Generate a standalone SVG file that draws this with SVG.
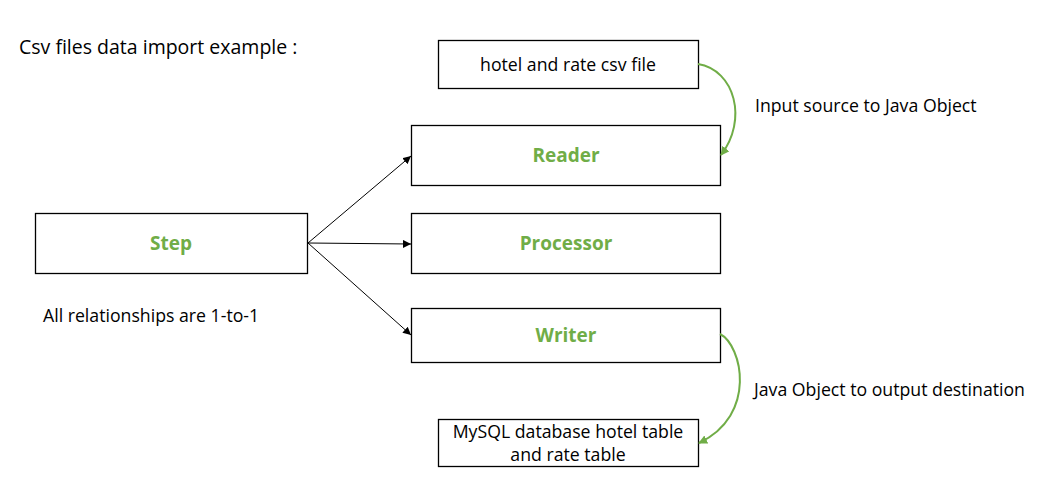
<svg xmlns="http://www.w3.org/2000/svg" width="1050" height="486" viewBox="0 0 1050 486">
<style>
.box{fill:#fff;stroke:#000;stroke-width:1.3}
.t{font-family:"Open Sans","Liberation Sans",sans-serif;font-size:17.7px;fill:#000}
.g{font-family:"Open Sans","Liberation Sans",sans-serif;font-size:19px;font-weight:bold;fill:#70AD47}
.c{fill:none;stroke:#000;stroke-width:1}
.gc{fill:none;stroke:#70AD47;stroke-width:2}
</style>
<defs>
<marker id="ab" viewBox="0 0 10 10" refX="10" refY="5" markerWidth="8" markerHeight="8" markerUnits="userSpaceOnUse" orient="auto"><path d="M0,0 L10,5 L0,10 z" fill="#000"/></marker>
<marker id="ag" viewBox="0 0 10 10" refX="9" refY="5" markerWidth="9" markerHeight="9" markerUnits="userSpaceOnUse" orient="auto"><path d="M0,0 L10,5 L0,10 z" fill="#70AD47"/></marker>
</defs>
<rect width="1050" height="486" fill="#fff"/>
<text class="t" x="19" y="54" style="font-size:19.5px">Csv files data import example :</text>
<g id="csv"><rect class="box" x="438.5" y="40.5" width="260" height="48"/><text class="t" x="568" y="71" text-anchor="middle">hotel and rate csv file</text></g>
<g id="reader"><rect class="box" x="411.5" y="125.5" width="309" height="60"/><text class="g" x="566" y="162" text-anchor="middle">Reader</text></g>
<g id="processor"><rect class="box" x="411.5" y="213.5" width="309" height="60"/><text class="g" x="566" y="250" text-anchor="middle">Processor</text></g>
<g id="writer"><rect class="box" x="411.5" y="308.5" width="309" height="54"/><text class="g" x="566" y="342" text-anchor="middle">Writer</text></g>
<g id="step"><rect class="box" x="35.5" y="213.5" width="272" height="60"/><text class="g" x="171" y="250" text-anchor="middle">Step</text></g>
<g id="mysql"><rect class="box" x="438.5" y="419.5" width="260" height="47"/><text class="t" x="568" y="438" text-anchor="middle">MySQL database hotel table</text><text class="t" x="568" y="461" text-anchor="middle">and rate table</text></g>
<text class="t" x="43" y="322">All relationships are 1-to-1</text>
<text class="t" x="755" y="112">Input source to Java Object</text>
<text class="t" x="754" y="396">Java Object to output destination</text>
<g id="connectors">
<path class="c" d="M308,243 L411,156" marker-end="url(#ab)"/>
<path class="c" d="M308,243 L411,244" marker-end="url(#ab)"/>
<path class="c" d="M308,243 L411,335" marker-end="url(#ab)"/>
<path class="gc" d="M698,64 C735,70 748,120 721,155" marker-end="url(#ag)"/>
<path class="gc" d="M720,334 C742,345 758,415 699,443" marker-end="url(#ag)"/>
</g>
</svg>
